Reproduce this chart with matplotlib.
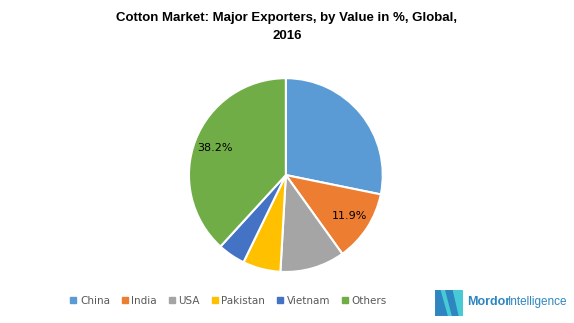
import matplotlib.pyplot as plt
from matplotlib.patches import Polygon
from matplotlib.lines import Line2D

countries = ['China', 'India', 'USA', 'Pakistan', 'Vietnam', 'Others']
shares = [28.2, 11.9, 10.8, 6.3, 4.6, 38.2]
colors = ['#5B9BD5', '#ED7D31', '#A5A5A5', '#FFC000', '#4472C4', '#70AD47']
shown = ['India', 'Others']

fig = plt.figure(figsize=(5.74, 3.23), dpi=100)
fig.patch.set_facecolor('white')

ax = fig.add_axes([0.329, 0.158, 0.338, 0.6])
wedges, _, autotexts = ax.pie(shares, colors=colors, startangle=90, counterclock=False,
                              autopct='%1.1f%%', pctdistance=0.78,
                              wedgeprops=dict(edgecolor='white', linewidth=1.5),
                              textprops=dict(fontsize=8, color='black'))
for name, t in zip(countries, autotexts):
    if name not in shown:
        t.set_text('')
ax.set_xlim(-1, 1)
ax.set_ylim(-1, 1)
ax.set_aspect('equal')

fig.text(0.5, 0.916, 'Cotton Market: Major Exporters, by Value in %, Global,\n2016',
         ha='center', va='center', fontsize=9.5, fontweight='bold',
         family='Liberation Sans', linespacing=1.7)

# legend
handles = [Line2D([0], [0], marker='s', linestyle='', markersize=4.5,
                  markerfacecolor=c, markeredgecolor=c) for c in colors]
leg = fig.legend(handles, countries, loc='center', bbox_to_anchor=(0.398, 0.068),
                 ncol=6, frameon=False, fontsize=7.5, handlelength=0.6,
                 handletextpad=0.35, columnspacing=1.1)
for t in leg.get_texts():
    t.set_color('#595959')

# logo
lax = fig.add_axes([0.758, 0.022, 0.049, 0.08])
lax.set_xlim(0, 1)
lax.set_ylim(0, 1)
lax.axis('off')
lax.add_patch(Polygon([[0, 0], [0, 1], [0.22, 1], [0.48, 0]], color='#2E86C1'))
lax.add_patch(Polygon([[0.22, 1], [0.38, 1], [0.62, 0], [0.48, 0]], color='#48C9D6'))
lax.add_patch(Polygon([[0.38, 1], [0.62, 1], [0.85, 0], [0.62, 0]], color='#2E86C1'))
lax.add_patch(Polygon([[0.62, 1], [1, 1], [1, 0], [0.85, 0]], color='#48C9D6'))
fig.text(0.813, 0.065, 'Mordor', ha='left', va='center', fontsize=9,
         color='#2E86C1', family='Liberation Sans', fontweight='bold')
fig.text(0.884, 0.065, 'Intelligence', ha='left', va='center', fontsize=8.5,
         color='#2E86C1', family='Liberation Sans')

fig.savefig('out.png', dpi=100)
